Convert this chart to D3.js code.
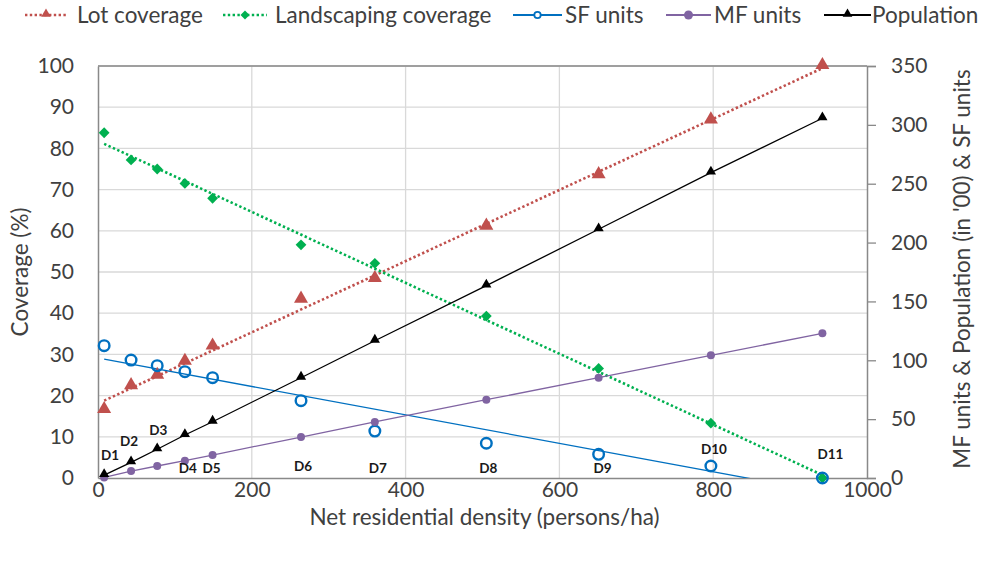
<!DOCTYPE html>
<html>
<head>
<meta charset="utf-8">
<script src="https://cdn.jsdelivr.net/npm/d3@7"></script>
<style>
  body { margin: 0; background: #fff; }
  svg text { font-family: Lato, "Open Sans", sans-serif; }
</style>
</head>
<body>
<div id="chart"></div>
<script>
// chart data
const districts = ["D1", "D2", "D3", "D4", "D5", "D6", "D7", "D8", "D9", "D10", "D11"];
const density = [8, 43, 77, 113, 149, 264, 360, 505, 651, 797, 942];
const lotCoverage = [16.5, 22.3, 24.8, 28.2, 31.9, 43.3, 48.3, 61.0, 73.5, 86.8, 100];
const landscaping = [83.8, 77.2, 75.0, 71.5, 67.9, 56.6, 52.1, 39.3, 26.6, 13.3, 0];
const sfUnits = [112.4, 100.2, 95.4, 90.3, 85.2, 65.7, 39.9, 29.5, 20.1, 10.2, 0];
const mfUnits = [0.5, 5.9, 10.2, 14.7, 19.5, 34.8, 47.6, 66.5, 85.2, 104.2, 122.9];
const population = [2.5, 13.3, 24.4, 36.5, 47.8, 85.2, 116.6, 163.4, 211.3, 259.4, 305.6];

const xTicks = [0, 200, 400, 600, 800, 1000];
const leftTicks = [0, 10, 20, 30, 40, 50, 60, 70, 80, 90, 100];
const rightTicks = [0, 50, 100, 150, 200, 250, 300, 350];

// where the D-labels sit relative to each point (px): dx, height above x axis
const labelOffsets = [[6, 23], [-2, 37], [1, 48], [3, 10], [-1, 10], [2, 12],
                      [3, 10], [2, 10], [4, 10], [3, 29], [8, 24]];

const w = 984, h = 561;
const m = {left: 98, right: 117, top: 66, bottom: 83};
const fs = "22.5px";
const tickFs = "21px";

const svg = d3.select("#chart").append("svg")
  .attr("width", w)
  .attr("height", h);

const x = d3.scaleLinear().domain([0, 1000]).range([m.left, w - m.right]);
const yL = d3.scaleLinear().domain([0, 100]).range([h - m.bottom, m.top]);
const yR = d3.scaleLinear().domain([0, 350]).range([h - m.bottom, m.top]);

const textCol = "#404040";
const gridCol = "#d9d9d9";
const axisCol = "#898989";

// grid
svg.append("g")
  .selectAll("line.h")
  .data(leftTicks.slice(1))
  .join("line")
  .attr("x1", m.left).attr("x2", w - m.right)
  .attr("y1", d => yL(d)).attr("y2", d => yL(d))
  .attr("stroke", gridCol).attr("stroke-width", 1.3);

svg.append("g")
  .selectAll("line.v")
  .data(xTicks.slice(1, -1))
  .join("line")
  .attr("x1", d => x(d)).attr("x2", d => x(d))
  .attr("y1", m.top).attr("y2", h - m.bottom)
  .attr("stroke", gridCol).attr("stroke-width", 1.3);

// plot frame top
svg.append("line")
  .attr("x1", m.left).attr("x2", w - m.right)
  .attr("y1", m.top).attr("y2", m.top)
  .attr("stroke", axisCol).attr("stroke-width", 1.3);

// axes
const xAxis = d3.axisBottom(x).tickValues(xTicks).tickFormat(d3.format("d")).tickSize(0).tickPadding(4);
const lAxis = d3.axisLeft(yL).tickValues(leftTicks).tickSize(0).tickPadding(24);
const rAxis = d3.axisRight(yR).tickValues(rightTicks).tickSize(9).tickPadding(15);

function styleAxis(g) {
  g.select(".domain").attr("stroke", axisCol).attr("stroke-width", 1.5);
  g.selectAll(".tick line").attr("stroke", axisCol).attr("stroke-width", 1.3);
  g.selectAll("text").attr("fill", textCol).style("font-size", tickFs);
}

svg.append("g").attr("transform", `translate(0,${h - m.bottom})`).call(xAxis).call(styleAxis);
svg.append("g").attr("transform", `translate(${m.left},0)`).call(lAxis).call(styleAxis);
svg.append("g").attr("transform", `translate(${w - m.right},0)`).call(rAxis).call(styleAxis);

// axis titles
svg.append("text")
  .attr("x", (m.left + w - m.right) / 2 + 2)
  .attr("y", 525)
  .attr("text-anchor", "middle")
  .attr("fill", textCol)
  .style("font-size", fs)
  .text("Net residential density (persons/ha)");

svg.append("text")
  .attr("transform", `translate(28,${(m.top + h - m.bottom) / 2}) rotate(-90)`)
  .attr("text-anchor", "middle")
  .attr("fill", textCol)
  .style("font-size", fs)
  .text("Coverage (%)");

svg.append("text")
  .attr("transform", `translate(970,${(m.top + h - m.bottom) / 2 - 3}) rotate(-90)`)
  .attr("text-anchor", "middle")
  .attr("fill", textCol)
  .style("font-size", fs)
  .text("MF units & Population (in '00) & SF units");

// clip for trend lines
svg.append("clipPath").attr("id", "plotClip")
  .append("rect")
  .attr("x", m.left).attr("y", m.top)
  .attr("width", w - m.left - m.right).attr("height", h - m.top - m.bottom);

// least squares fit, like the spreadsheet trendline
function linFit(xs, ys) {
  const mx = d3.mean(xs), my = d3.mean(ys);
  let sxy = 0, sxx = 0;
  xs.forEach((v, i) => { sxy += (v - mx) * (ys[i] - my); sxx += (v - mx) * (v - mx); });
  const b = sxy / sxx;
  const a = my - b * mx;
  const x0 = d3.min(xs), x1 = d3.max(xs);
  return [[x0, a + b * x0], [x1, a + b * x1]];
}

const trend = (vals, yScale) => d3.line().x(d => x(d[0])).y(d => yScale(d[1]))(linFit(density, vals));
const joined = (vals, yScale) => d3.line().x((d, i) => x(density[i])).y(d => yScale(d))(vals);

const red = "#c0504d", green = "#00b050", blue = "#0070c0", purple = "#8064a2", black = "#000000";

const lines = svg.append("g").attr("clip-path", "url(#plotClip)");

lines.append("path").attr("d", trend(lotCoverage, yL))
  .attr("fill", "none").attr("stroke", red).attr("stroke-width", 2.6).attr("stroke-dasharray", "2.4,2.4");
lines.append("path").attr("d", trend(landscaping, yL))
  .attr("fill", "none").attr("stroke", green).attr("stroke-width", 2.6).attr("stroke-dasharray", "2.4,2.4");
lines.append("path").attr("d", trend(sfUnits, yR))
  .attr("fill", "none").attr("stroke", blue).attr("stroke-width", 1.3);
lines.append("path").attr("d", joined(mfUnits, yR))
  .attr("fill", "none").attr("stroke", purple).attr("stroke-width", 1.3);
lines.append("path").attr("d", joined(population, yR))
  .attr("fill", "none").attr("stroke", black).attr("stroke-width", 1.3);

// markers
const triBig = d3.symbol().type(d3.symbolTriangle).size(85);
const triSmall = d3.symbol().type(d3.symbolTriangle).size(45);
const diamond = d3.symbol().type(d3.symbolSquare).size(58);

svg.append("g").selectAll("path")
  .data(lotCoverage)
  .join("path")
  .attr("d", triBig)
  .attr("transform", (d, i) => `translate(${x(density[i])},${yL(d) - 1})`)
  .attr("fill", red);

svg.append("g").selectAll("path")
  .data(landscaping)
  .join("path")
  .attr("d", diamond)
  .attr("transform", (d, i) => `translate(${x(density[i])},${yL(d)}) rotate(45)`)
  .attr("fill", green);

svg.append("g").selectAll("circle")
  .data(sfUnits)
  .join("circle")
  .attr("cx", (d, i) => x(density[i]))
  .attr("cy", d => yR(d))
  .attr("r", 5.3)
  .attr("fill", "none")
  .attr("stroke", blue)
  .attr("stroke-width", 2.4);

svg.append("g").selectAll("circle")
  .data(mfUnits)
  .join("circle")
  .attr("cx", (d, i) => x(density[i]))
  .attr("cy", d => yR(d))
  .attr("r", 4)
  .attr("fill", purple);

svg.append("g").selectAll("path")
  .data(population)
  .join("path")
  .attr("d", triSmall)
  .attr("transform", (d, i) => `translate(${x(density[i])},${yR(d) - 1})`)
  .attr("fill", black);

// D-labels
svg.append("g").selectAll("text")
  .data(districts)
  .join("text")
  .attr("x", (d, i) => x(density[i]) + labelOffsets[i][0])
  .attr("y", (d, i) => yL(0) - labelOffsets[i][1])
  .attr("text-anchor", "middle")
  .attr("dy", "0.35em")
  .attr("fill", "#1a1a1a")
  .style("font-size", "13.5px")
  .style("font-weight", "bold")
  .text(d => d);

// legend
const legendItems = [
  {name: "Lot coverage", color: red, dash: "2.4,2.4", width: 2.6, mark: "tri", x0: 25, x1: 67, tx: 77},
  {name: "Landscaping coverage", color: green, dash: "2.4,2.4", width: 2.6, mark: "dia", x0: 223, x1: 267, tx: 275},
  {name: "SF units", color: blue, dash: null, width: 2.2, mark: "open", x0: 513, x1: 562, tx: 565},
  {name: "MF units", color: purple, dash: null, width: 2.2, mark: "dot", x0: 666, x1: 711, tx: 714},
  {name: "Population", color: black, dash: null, width: 2.2, mark: "tri", x0: 824, x1: 871, tx: 872}
];

const ly = 15;
const leg = svg.append("g");
legendItems.forEach(it => {
  leg.append("line")
    .attr("x1", it.x0).attr("x2", it.x1).attr("y1", ly).attr("y2", ly)
    .attr("stroke", it.color).attr("stroke-width", it.width)
    .attr("stroke-dasharray", it.dash);
  const cx = (it.x0 + it.x1) / 2;
  if (it.mark == "tri") {
    leg.append("path").attr("d", d3.symbol().type(d3.symbolTriangle).size(40))
      .attr("transform", `translate(${cx},${ly - 1})`).attr("fill", it.color);
  } else if (it.mark == "dia") {
    leg.append("path").attr("d", d3.symbol().type(d3.symbolSquare).size(40))
      .attr("transform", `translate(${cx},${ly}) rotate(45)`).attr("fill", it.color);
  } else if (it.mark == "open") {
    leg.append("circle").attr("cx", cx).attr("cy", ly).attr("r", 3.2)
      .attr("fill", "#fff").attr("stroke", it.color).attr("stroke-width", 1.8);
  } else {
    leg.append("circle").attr("cx", cx).attr("cy", ly).attr("r", 4.5).attr("fill", it.color);
  }
  leg.append("text")
    .attr("x", it.tx).attr("y", ly).attr("dy", "0.35em")
    .attr("fill", textCol)
    .style("font-size", fs)
    .text(it.name);
});
</script>
</body>
</html>
